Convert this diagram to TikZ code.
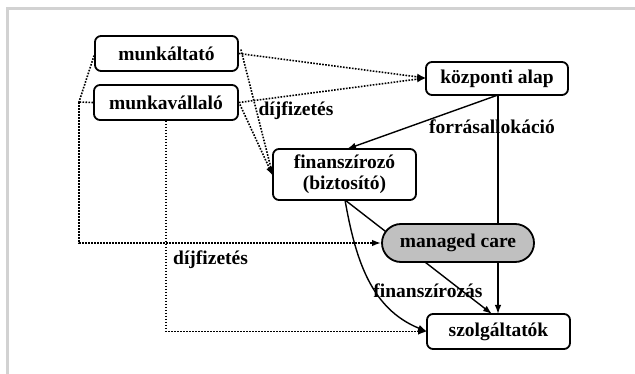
\documentclass[tikz,border=0pt]{standalone}
\usepackage{fontspec}
\setmainfont{Liberation Serif}
\usetikzlibrary{arrows.meta}
\definecolor{framegray}{HTML}{D2D2D2}
\definecolor{mcgray}{HTML}{C0C0C0}
\tikzset{
  txt/.style={font=\bfseries\fontsize{19.5}{21}\selectfont, inner sep=0pt},
  box/.style={txt, draw, line width=1.8pt, rounded corners=6pt, align=center},
  tip/.style={-{Latex[length=9pt,width=6.5pt]}},
  solidln/.style={line width=1.4pt},
  dotln/.style={line width=1.6pt, dash pattern=on 1.6pt off 1.4pt},
}
\begin{document}
\begin{tikzpicture}[x=1pt,y=-1pt]
\useasboundingbox (0,0) rectangle (635,374);
\fill[white] (0,0) rectangle (635,374);
\draw[framegray, line width=3pt] (7.5,374) -- (7.5,9) -- (635,9);

\node[box, minimum width=143pt, minimum height=35pt] (mt) at (166.5,53.5) {munkáltató};
\node[box, minimum width=144pt, minimum height=35pt] (mv) at (166,102.5) {munkavállaló};
\node[box, minimum width=142pt, minimum height=33pt] (ka) at (497,78.5) {központi alap};
\node[box, minimum width=143pt, minimum height=51pt] (fin) at (344.5,174.5) {finanszírozó\\(biztosító)};
\node[box, minimum width=143pt, minimum height=35pt] (sz) at (498.5,331.5) {szolgáltatók};

\coordinate (kaS) at (498,95);
\coordinate (szN) at (498,314);
\coordinate (finS) at (345,200);
\coordinate (szNW) at (492,314);
\coordinate (szW) at (427,331.5);
\coordinate (kaW) at (426,78);
\coordinate (finW) at (273,176);
\coordinate (finN) at (347,149);

% lines passing behind managed care
\draw[solidln, tip] (kaS) -- (szN);
\draw[solidln, tip] (finS) -- (szNW);

\node[box, fill=mcgray, minimum width=152pt, minimum height=38pt, rounded corners=19pt] (mc) at (458,243) {managed care};

% dotted connectors
\draw[dotln, tip] (mt.east) -- (kaW);
\draw[dotln, tip] (mv.east) -- (kaW);
\draw[dotln, tip] ([yshift=4pt]mt.east) ++(2,0) -- (finW);
\draw[dotln, tip] (mv.east) ++(1,2) -- (finW);
\coordinate (lc) at (79,102);
\coordinate (lb) at (79,243);
\draw[dotln] (mt.west) ++(0,2) -- (lc);
\draw[dotln] (mv.west) -- (lc);
\draw[dotln, tip] (lc) -- (lb) -- (mc.west);
\coordinate (vb) at (mv.south |- szW);
\draw[dotln, tip] (mv.south) -- (vb) -- (szW);

% solid connectors
\draw[solidln, tip] (kaS) -- (finN);
\draw[solidln, tip] (finS) to[out=-80, in=158] (szW);

% labels
\node[txt] (l1) at (296,111) {díjfizetés};
\node[txt] (l2) at (492,127) {forrásallokáció};
\node[txt, anchor=west] (l3) at (173,260) {díjfizetés};
\node[txt] (l4) at (428,291) {finanszírozás};
\end{tikzpicture}
\end{document}
